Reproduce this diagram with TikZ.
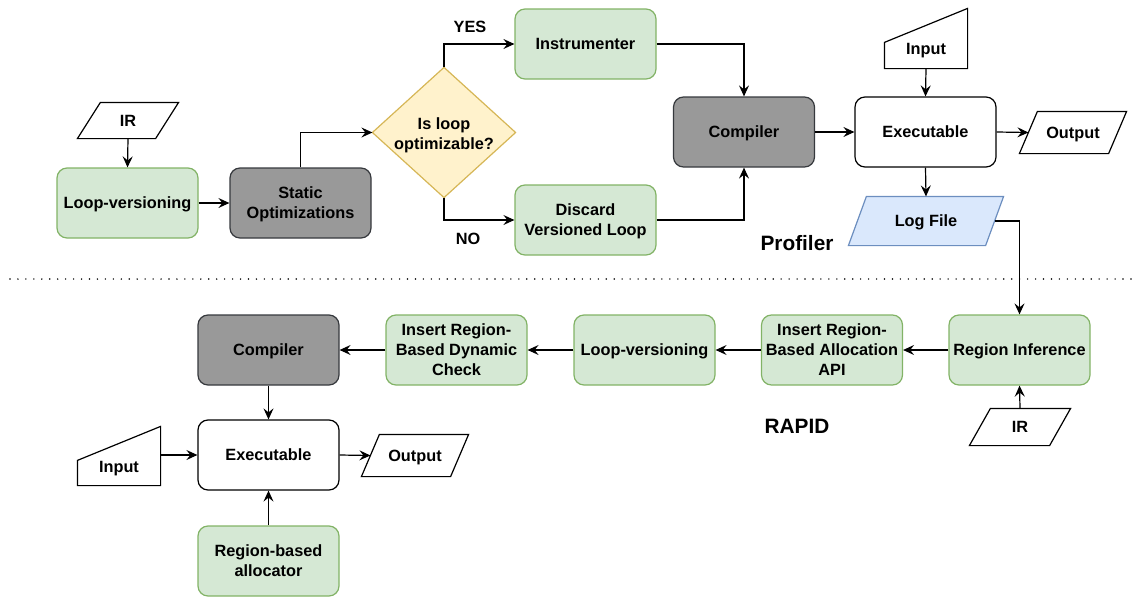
\documentclass[tikz,border=0pt]{standalone}
\usepackage{fontspec}
\setmainfont{Liberation Sans}
\usetikzlibrary{arrows.meta,calc}
\definecolor{gfill}{HTML}{D5E8D4}
\definecolor{gbord}{HTML}{82B366}
\definecolor{dfill}{HTML}{999999}
\definecolor{dbord}{HTML}{36393D}
\definecolor{yfill}{HTML}{FFF2CC}
\definecolor{ybord}{HTML}{D6B656}
\definecolor{bfill}{HTML}{DAE8FC}
\definecolor{bbord}{HTML}{6C8EBF}
\tikzset{
  base/.style={font=\fontsize{16.3}{20}\selectfont\bfseries, align=center, inner sep=0pt, line width=1.2pt, text depth=0pt},
  boxbase/.style={base, rounded corners=10pt, minimum width=141pt, minimum height=70pt},
  greenbox/.style={boxbase, draw=gbord, fill=gfill},
  graybox/.style={boxbase, draw=dbord, fill=dfill},
  whitebox/.style={boxbase, draw=black, fill=white},
  shapeonly/.style={base},
  outline/.style={line width=1.2pt, draw=black, fill=white},
  arr/.style={line width=1.2pt, -{Stealth[length=11pt,width=10pt,inset=4pt]}},
  biglabel/.style={font=\fontsize{20.8}{24}\selectfont\bfseries, inner sep=0pt, text depth=0pt},
}
\begin{document}
\begin{tikzpicture}[x=1pt,y=1pt]
\useasboundingbox (0,0) rectangle (1132,-597);

% ---------- Profiler part ----------
\node[shapeonly, minimum width=100pt, minimum height=35pt] (ir1) at (128,-120.5) {};
\draw[outline] ([xshift=23pt]ir1.north west) -- (ir1.north east) -- ([xshift=-23pt]ir1.south east) -- (ir1.south west) -- cycle;
\node[base] at (ir1) {IR};

\node[greenbox] (lv1) at (127.5,-203) {Loop-versioning};
\node[graybox] (static) at (300.5,-203) {Static\\Optimizations};

\node[shapeonly, minimum width=142pt, minimum height=129pt] (dia) at (444,-132.5) {};
\draw[line width=1.2pt, draw=ybord, fill=yfill] (dia.north) -- (dia.east) -- (dia.south) -- (dia.west) -- cycle;
\node[base] at ($(dia.center)+(0,-1.5)$) {Is loop\\optimizable?};

\node[greenbox] (instr) at (585.5,-44) {Instrumenter};
\node[greenbox] (disc) at (585.5,-220) {Discard\\Versioned Loop};
\node[base] (yes) at (470,-27) {YES};
\node[base] (no) at (468,-239) {NO};

\node[graybox] (comp1) at (744,-132) {Compiler};
\node[whitebox] (exe1) at (925.5,-132) {Executable};

\node[shapeonly, minimum width=82pt, minimum height=59pt] (in1) at (926,-38.5) {};
\draw[outline] (in1.south west) -- ([yshift=-34pt]in1.north west) -- (in1.north east) -- (in1.south east) -- cycle;
\node[base] at ($(in1.center)+(0,-10.5)$) {Input};

\node[shapeonly, minimum width=106pt, minimum height=41pt] (out1) at (1073,-132.5) {};
\draw[outline] ([xshift=18pt]out1.north west) -- (out1.north east) -- ([xshift=-18pt]out1.south east) -- (out1.south west) -- cycle;
\node[base] at (out1) {Output};

\node[shapeonly, minimum width=154pt, minimum height=48pt] (log) at (926,-221) {};
\draw[line width=1.2pt, draw=bbord, fill=bfill] ([xshift=18pt]log.north west) -- (log.north east) -- ([xshift=-18pt]log.south east) -- (log.south west) -- cycle;
\node[base] at (log) {Log File};

\node[biglabel] (prof) at (797,-243) {Profiler};

\draw[arr] (ir1.south) -- (lv1.north);
\draw[arr] (lv1.east) -- (static.west);
\draw[arr] (static.north) |- (dia.west);
\draw[arr] (dia.north) |- (instr.west);
\draw[arr] (dia.south) |- (disc.west);
\draw[arr] (instr.east) -| (comp1.north);
\draw[arr] (disc.east) -| (comp1.south);
\draw[arr] (comp1.east) -- (exe1.west);
\draw[arr] (in1.south) -- (exe1.north);
\draw[arr] (exe1.east) -- ($(out1.west)+(9,0)$);
\draw[arr] (exe1.south) -- (log.north);

% ---------- separator ----------
\coordinate (d1) at (10,-279);
\coordinate (d2) at (1132,-279);
\draw[line width=1.6pt, line cap=round, dash pattern=on 0pt off 7.95pt] (d1) -- (d2);

% ---------- RAPID part ----------
\node[greenbox] (ri) at (1019.5,-350) {Region Inference};
\node[greenbox] (api) at (832,-350) {Insert Region-\\Based Allocation\\API};
\node[greenbox] (lv2) at (644.5,-350) {Loop-versioning};
\node[greenbox] (chk) at (456.5,-350) {Insert Region-\\Based Dynamic\\Check};
\node[graybox] (comp2) at (268.5,-350) {Compiler};
\node[whitebox] (exe2) at (268.5,-455) {Executable};
\node[greenbox] (alloc) at (268.5,-561) {Region-based\\allocator};

\node[shapeonly, minimum width=100pt, minimum height=36pt] (ir2) at (1020,-427) {};
\draw[outline] ([xshift=21pt]ir2.north west) -- (ir2.north east) -- ([xshift=-21pt]ir2.south east) -- (ir2.south west) -- cycle;
\node[base] at (ir2) {IR};

\node[shapeonly, minimum width=82pt, minimum height=58pt] (in2) at (119,-456) {};
\draw[outline] (in2.south west) -- ([yshift=-34pt]in2.north west) -- (in2.north east) -- (in2.south east) -- cycle;
\node[base] at ($(in2.center)+(0,-10.5)$) {Input};

\node[shapeonly, minimum width=106pt, minimum height=41pt] (out2) at (415,-455.5) {};
\draw[outline] ([xshift=18pt]out2.north west) -- (out2.north east) -- ([xshift=-18pt]out2.south east) -- (out2.south west) -- cycle;
\node[base] at (out2) {Output};

\node[biglabel] (rapid) at (797,-426) {RAPID};

\draw[arr] ($(log.east)+(-9,0)$) -| (ri.north);
\draw[arr] (ir2.north) -- (ri.south);
\draw[arr] (ri.west) -- (api.east);
\draw[arr] (api.west) -- (lv2.east);
\draw[arr] (lv2.west) -- (chk.east);
\draw[arr] (chk.west) -- (comp2.east);
\draw[arr] (comp2.south) -- (exe2.north);
\draw[arr] (in2.east |- exe2.west) -- (exe2.west);
\draw[arr] (exe2.east) -- ($(out2.west)+(9,0)$);
\draw[arr] (alloc.north) -- (exe2.south);
\end{tikzpicture}
\end{document}
